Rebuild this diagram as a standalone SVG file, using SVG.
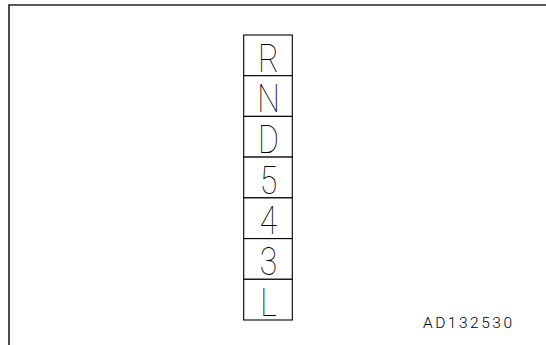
<svg xmlns="http://www.w3.org/2000/svg" width="546" height="345" viewBox="0 0 546 345">
<style>
.frame{fill:none;stroke:#222;stroke-width:1.6}
.box{fill:#fff;stroke:#000;stroke-width:1.1}
.g{font-family:Roboto,"Liberation Sans",sans-serif;font-weight:100;font-size:39px;fill:#000;text-anchor:middle}
.lbl{font-family:Roboto,"Liberation Sans",sans-serif;font-weight:300;font-size:15.5px;fill:#000}
</style>
<rect width="546" height="345" fill="#fff"/>
<path class="frame" d="M9,345 V5 H546"/>
<g id="box-R"><rect class="box" x="243.7" y="35" width="48.6" height="40.7"/><text class="g" transform="translate(268.5,71.5) scale(0.82,1)">R</text></g>
<g id="box-N"><rect class="box" x="243.7" y="75.7" width="48.6" height="40.7"/><text class="g" transform="translate(268.5,112.2) scale(0.82,1)">N</text></g>
<g id="box-D"><rect class="box" x="243.7" y="116.4" width="48.6" height="40.7"/><text class="g" transform="translate(268.5,152.9) scale(0.82,1)">D</text></g>
<g id="box-5"><rect class="box" x="243.7" y="157.1" width="48.6" height="40.7"/><text class="g" transform="translate(268.5,193.6) scale(0.82,1)">5</text></g>
<g id="box-4"><rect class="box" x="243.7" y="197.9" width="48.6" height="40.7"/><text class="g" transform="translate(268.5,234.4) scale(0.82,1)">4</text></g>
<g id="box-3"><rect class="box" x="243.7" y="238.6" width="48.6" height="40.7"/><text class="g" transform="translate(268.5,275.1) scale(0.82,1)">3</text></g>
<g id="box-L"><rect class="box" x="243.7" y="279.3" width="48.6" height="40.7"/><text class="g" transform="translate(268.5,315.8) scale(0.82,1)">L</text></g>
<g id="connectors"></g>
<text class="lbl" x="423" y="327.5" textLength="89" lengthAdjust="spacing">AD132530</text>
</svg>
